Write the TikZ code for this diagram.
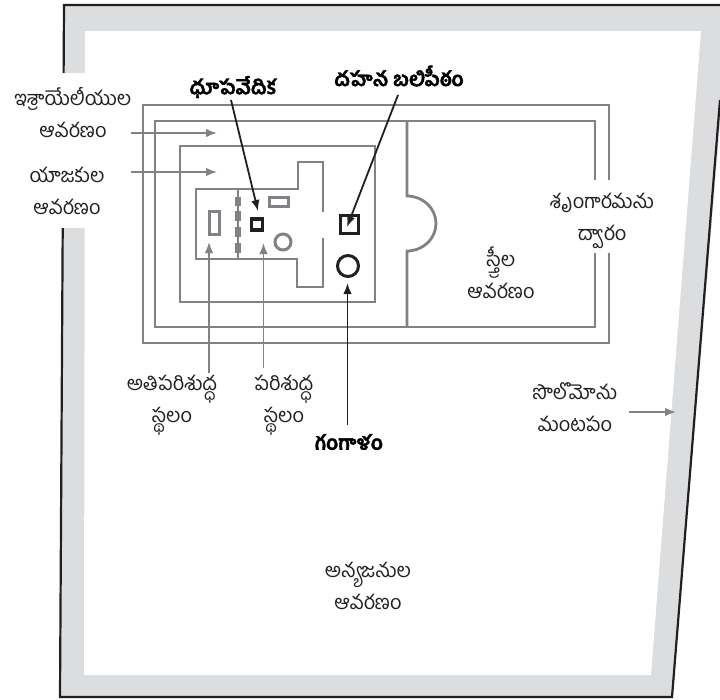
\documentclass[tikz,border=0pt]{standalone}
\usepackage{fontspec}
\usepackage{tikz}
\usetikzlibrary{positioning,calc,arrows.meta}
\newfontfamily\telugu[Script=Telugu,BoldFeatures={FakeBold=2}]{Hind Guntur}
\definecolor{bandgray}{HTML}{DCDDDE}
\definecolor{wallgray}{HTML}{808285}
\definecolor{inkblack}{HTML}{231F20}
\tikzset{
	wall/.style={draw=wallgray,line width=2.8pt},
	thickwall/.style={draw=wallgray,line width=3pt},
	blackwall/.style={draw=inkblack,line width=3pt},
	grayarrow/.style={wallgray,line width=1.7pt,-{Latex[length=11pt,width=8.5pt]}},
	blackarrow/.style={inkblack,line width=1.8pt,-{Latex[length=11pt,width=8.5pt]}},
	lbl/.style={align=center,inner sep=0pt,font=\telugu\fontsize{20}{32}\selectfont,text=inkblack},
	boldlbl/.style={align=center,inner sep=0pt,font=\telugu\bfseries\fontsize{20}{32}\selectfont,text=black}
}
\begin{document}
\begin{tikzpicture}[x=1pt,y=-1pt]
		\useasboundingbox (0,0) rectangle (720,699);
		
		% outer court
		\begin{scope}
		\clip (0,0) rectangle (720,699);
		\fill[bandgray] (64,5) -- (730,5) -- (672,697) -- (60,697) -- cycle;
		\draw[inkblack,line width=2.2pt] (720,100) -- (672,697) -- (60,697) -- (64,5) -- (730,5);
		\end{scope}
		\fill[white] (85,31) -- (701,31) -- (651,675) -- (84,675) -- cycle;
		\fill[white] (0,73) rectangle (85,228);
		
		% courts
		\draw[wall] (143,105) rectangle (609,343);
		\draw[wall] (155,121) rectangle (595,327);
		\draw[wall] (180,146) rectangle (375,302);
		\draw[wall] (407,121) -- (407,196) arc[start angle=-90,end angle=90,x radius=29,y radius=27.5] -- (407,327);
		\fill[white] (590,180) rectangle (615,253);
		
		% temple
		\draw[wall] (323,212) -- (323,162) -- (298,162) -- (298,189) -- (196,189) -- (196,259) -- (297,259) -- (297,287) -- (323,287) -- (323,238);
		\draw[wallgray,line width=1.4pt] (238,189) -- (238,259);
		\foreach \ya/\yb in {197/206,211/221,227/237,243/253}
			\fill[wallgray] (235,\ya) rectangle (241,\yb);
		\draw[thickwall] (209.5,211.5) rectangle (219.5,234.5);
		\draw[thickwall] (269.5,197.5) rectangle (288.5,206.5);
		\node[circle,thickwall,minimum size=16pt,inner sep=0pt] (basin) at (283,242) {};
		
		% furniture
		\node[rectangle,draw=inkblack,line width=3.5pt,minimum size=11pt,inner sep=0pt] (incense) at (257,224.5) {};
		\node[rectangle,blackwall,minimum size=18pt,inner sep=0pt] (altar) at (349,224.5) {};
		\node[circle,draw=inkblack,line width=3pt,minimum size=21pt,inner sep=0pt] (laver) at (348,266) {};
		
		% labels
		\node[lbl] (israel) at (73,113) {ఇశ్రాయేలీయుల\\ఆవరణం};
		\node[lbl] (priests) at (67,191) {యాజకుల\\ఆవరణం};
		\node[boldlbl] (incenselbl) at (233,87) {ధూపవేదిక};
		\node[boldlbl] (altarlbl) at (399,76) {దహన బలిపీఠం};
		\node[lbl] (gate) at (602,221) {శృంగారమను\\ద్వారం};
		\node[lbl] (women) at (501,273) {స్త్రీల\\ఆవరణం};
		\node[lbl] (holiest) at (172,405) {అతిపరిశుద్ధ\\స్థలం};
		\node[lbl] (holy) at (284,405) {పరిశుద్ధ\\స్థలం};
		\node[boldlbl] (laverlbl) at (349,442) {గంగాళం};
		\node[lbl] (porch) at (575,407) {సొలొమోను\\మంటపం};
		\node[lbl] (gentiles) at (368,586) {అన్యజనుల\\ఆవరణం};
		
		% arrow ends
		\coordinate (israeltail) at (131,133);
		\coordinate (israeltip) at (217,133);
		\coordinate (priesttail) at (131,172);
		\coordinate (priesttip) at (217,172);
		\coordinate (incensetail) at (231,100);
		\coordinate (incensetip) at (258,211);
		\coordinate (altartail) at (398,95);
		\coordinate (altartip) at (347,227);
		\coordinate (lavertail) at (347.5,425);
		\coordinate (lavertip) at (347.5,283);
		\coordinate (holiesttail) at (209,373);
		\coordinate (holiesttip) at (209,242);
		\coordinate (holytail) at (263.5,368);
		\coordinate (holytip) at (263.5,243);
		\coordinate (porchtail) at (629,412);
		\coordinate (porchtip) at (676,412);
		
		\draw[grayarrow] (israeltail) -- (israeltip);
		\draw[grayarrow] (priesttail) -- (priesttip);
		\draw[blackarrow] (incensetail) -- (incensetip);
		\draw[blackarrow] (altartail) -- (altartip);
		\draw[blackarrow] (lavertail) -- (lavertip);
		\draw[grayarrow] (holiesttail) -- (holiesttip);
		\draw[grayarrow] (holytail) -- (holytip);
		\draw[grayarrow] (porchtail) -- (porchtip);
		\end{tikzpicture}
\end{document}
